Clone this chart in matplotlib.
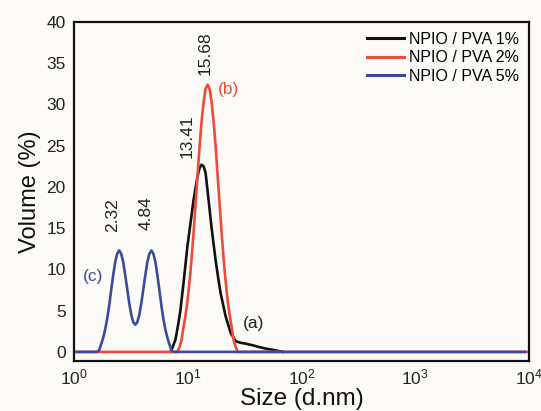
import matplotlib
matplotlib.use("Agg")
import matplotlib.pyplot as plt
from matplotlib.ticker import LogLocator, LogFormatterSciNotation, NullLocator

plt.rcParams["font.family"] = ["Liberation Sans", "DejaVu Sans"]
plt.rcParams["mathtext.default"] = "regular"

# size distributions (size in d.nm, volume in %)
size_1 = [7.04, 7.33, 7.80, 8.28, 8.63, 9.17, 9.95, 10.57, 11.24, 12.19,
          12.70, 13.22, 13.78, 14.35, 15.25, 16.21, 17.58, 18.69, 19.46,
          21.54, 23.85, 26.40, 29.23, 32.35, 37.29, 42.14, 48.59, 56.02, 68.65]
vol_1 = [0, 0.5, 1.5, 3.5, 5.1, 8.3, 12.9, 15.6, 18.4, 21.3,
         22.3, 22.7, 22.5, 21.7, 18.4, 15.0, 11.1, 8.6, 7.1,
         4.3, 2.3, 1.3, 1.1, 1.0, 0.8, 0.6, 0.4, 0.25, 0]

size_2 = [1.0, 8.12, 8.46, 8.81, 9.17, 9.55, 9.95, 10.36, 10.79, 11.24, 11.71,
          12.19, 12.70, 13.22, 13.78, 14.35, 14.94, 15.56, 16.21, 16.88, 17.58,
          18.31, 19.07, 19.86, 20.69, 21.54, 22.44, 23.37, 24.33, 25.35, 26.40,
          27.50, 10000]
vol_2 = [0, 0, 0.6, 1.4, 3.0, 4.4, 6.2, 8.5, 11.2, 14.4, 17.9,
         21.4, 24.9, 27.9, 30.3, 31.9, 32.4, 31.9, 30.3, 27.9, 24.9,
         21.4, 17.9, 14.4, 11.2, 8.5, 6.2, 4.4, 3.0, 1.4, 0.6,
         0, 0]

size_5 = [1.0, 1.596, 1.663, 1.731, 1.804, 1.878, 1.956, 2.038, 2.122, 2.210,
          2.302, 2.397, 2.497, 2.600, 2.708, 2.820, 2.938, 3.059, 3.187, 3.319,
          3.457, 3.600, 3.750, 3.905, 4.067, 4.236, 4.412, 4.596, 4.786, 4.985,
          5.192, 5.407, 5.631, 5.864, 6.108, 6.360, 6.626, 6.901, 7.187, 7.485,
          9200]
vol_5 = [0, 0, 0.2, 0.9, 1.7, 2.7, 4.0, 5.6, 7.5, 9.3,
         10.9, 11.9, 12.3, 11.9, 10.9, 9.3, 7.6, 5.9, 4.5, 3.6,
         3.3, 3.6, 4.5, 5.9, 7.6, 9.3, 10.9, 11.9, 12.3, 11.9,
         10.9, 9.3, 7.5, 5.6, 4.0, 2.7, 1.7, 0.9, 0.2, 0,
         0]

labels = ["NPIO / PVA 1%", "NPIO / PVA 2%", "NPIO / PVA 5%"]
colors = ["#111111", "#f04a38", "#3b4a9c"]

# peak annotations
peak_sizes = [2.32, 4.84, 13.41, 15.68]
peak_text_x = [2.17, 4.32, 9.95, 14.3]
peak_text_y = [14.5, 14.8, 23.5, 33.6]

fig = plt.figure(figsize=(5.41, 4.11), dpi=100, facecolor="#fcfbf8")
ax = fig.add_axes([0.1368, 0.1217, 0.841, 0.8248])
ax.set_facecolor("#fcfbf8")

for xs, ys, lab, c in zip([size_1, size_2, size_5], [vol_1, vol_2, vol_5], labels, colors):
    ax.plot(xs, ys, color=c, lw=1.9, label=lab, solid_joinstyle="round")

ax.set_xscale("log")
ax.set_xlim(1, 1e4)
ax.set_ylim(-1.1, 40)
ax.xaxis.set_major_locator(LogLocator(base=10, numticks=10))
ax.xaxis.set_major_formatter(LogFormatterSciNotation())
ax.xaxis.set_minor_locator(NullLocator())
ax.set_yticks(range(0, 41, 5))
ax.tick_params(axis="both", length=0, labelsize=12.5, colors="#222222")
ax.tick_params(axis="x", pad=5)
ax.tick_params(axis="y", pad=6)
for s in ax.spines.values():
    s.set_linewidth(1.6)
    s.set_color("#111111")

ax.set_xlabel("Size (d.nm)", fontsize=17.5, color="#111111", labelpad=0)
ax.set_ylabel("Volume (%)", fontsize=17, color="#111111", labelpad=4)

for px, tx, ty in zip(peak_sizes, peak_text_x, peak_text_y):
    ax.text(tx, ty, f"{px:.2f}", rotation=90, ha="center", va="bottom",
            fontsize=12.5, color="#222222")

ax.text(18.5, 31.8, "(b)", color=colors[1], fontsize=12.5, ha="left", va="center")
ax.text(1.2, 9.1, "(c)", color=colors[2], fontsize=12.5, ha="left", va="center")
ax.text(30.5, 3.5, "(a)", color="#222222", fontsize=12.5, ha="left", va="center")

leg = ax.legend(loc="upper right", bbox_to_anchor=(1.006, 1.009), frameon=False,
                fontsize=11.5, handlelength=2.3, handletextpad=0.3,
                labelspacing=0.22, borderaxespad=0.4)
for h in leg.get_lines():
    h.set_linewidth(2.2)

fig.savefig("out.png", dpi=100, facecolor=fig.get_facecolor())
